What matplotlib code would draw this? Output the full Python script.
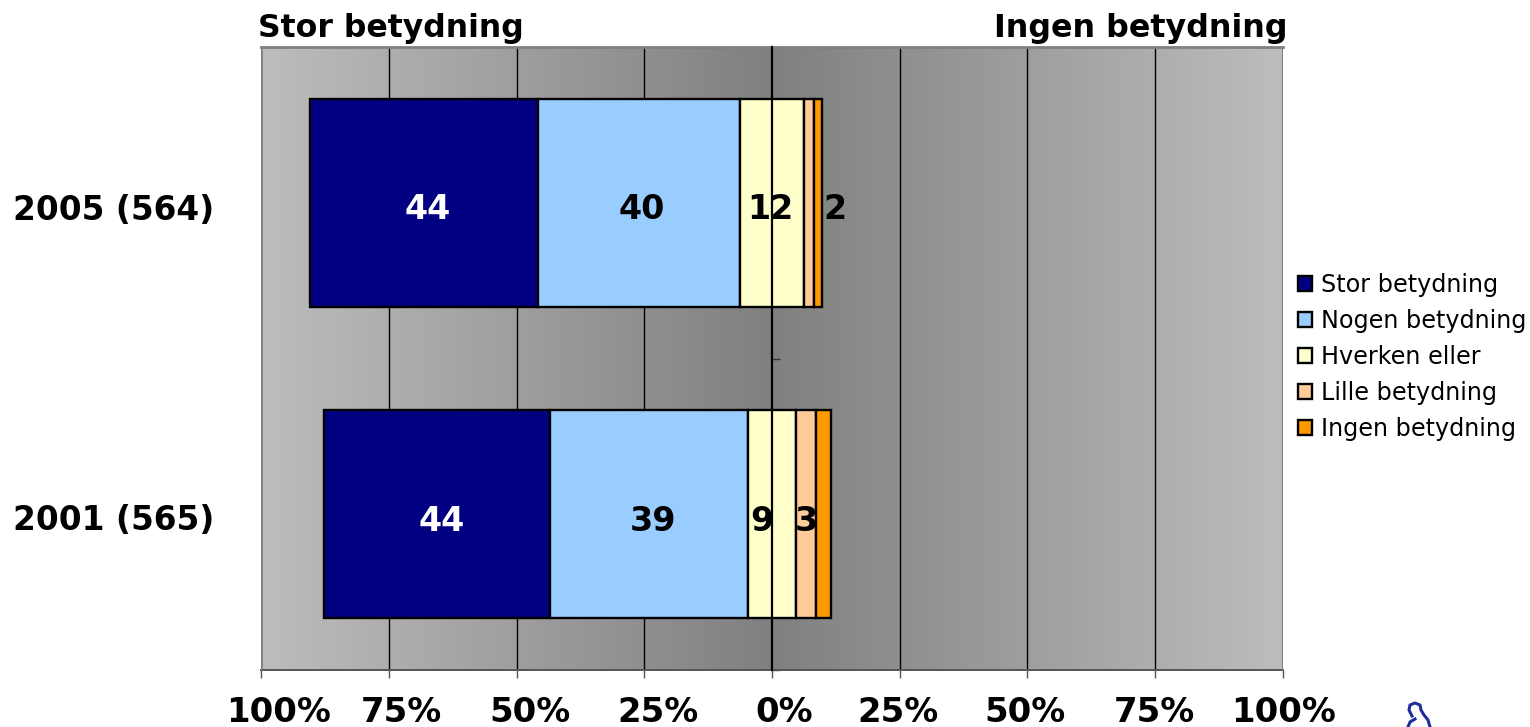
import numpy as np
import matplotlib
matplotlib.use('Agg')
import matplotlib.pyplot as plt
from matplotlib.colors import LinearSegmentedColormap
from matplotlib.lines import Line2D

years = ['2001 (565)', '2005 (564)']
series_names = ['Stor betydning', 'Nogen betydning', 'Hverken eller', 'Lille betydning', 'Ingen betydning']
colors = ['#000080', '#99CCFF', '#FFFFCC', '#FFCC99', '#FF9900']

stor = [44.3, 44.6]
nogen = [38.8, 39.5]
hverken = [9.2, 12.5]
lille = [4.1, 2.0]
ingen = [2.9, 1.6]

# text shown on the bars, None where the source has no label
labels = [
    ['44', '39', '9', '3', None],
    ['44', '40', '12', None, '2'],
]
# hand placed labels in the source, pixels from the segment centre
label_shift = [
    [5, 4, -10, 0, 0],
    [3, 3, -2, 0, 17],
]

tick_values = [-100, -75, -50, -25, 0, 25, 50, 75, 100]
tick_labels = ['100%', '75%', '50%', '25%', '0%', '25%', '50%', '75%', '100%']
# tick labels are not centred on their ticks in the source
tick_shift = [18, 13, 14, 14, 12, -2, -2, -1, 1]

W, H = 1530, 727
fig = plt.figure(figsize=(W / 100, H / 100), dpi=100, facecolor='white')
ax = fig.add_axes([261 / W, 1 - 670 / H, (1283 - 261) / W, (670 - 47) / H])

# grey background, dark in the middle
grad = np.abs(np.linspace(-1, 1, 512)).reshape(1, -1)
bg_cmap = LinearSegmentedColormap.from_list('bg', ['#808080', '#BDBDBD'])
ax.imshow(grad, extent=[-100, 100, 0, 2], aspect='auto', cmap=bg_cmap, zorder=0)

ax.set_xlim(-100, 100)
ax.set_ylim(0, 2)
for v in tick_values:
    if v not in (-100, 0, 100):
        ax.axvline(v, color='black', lw=1, zorder=1)

table = np.array([stor, nogen, hverken, lille, ingen])
y_pos = np.arange(len(years)) + 0.5
start = -(table[0] + table[1] + table[2] / 2)
for i, name in enumerate(series_names):
    ax.barh(y_pos, table[i], left=start, height=0.667, color=colors[i], edgecolor='black', lw=1.7, label=name, zorder=2)
    for r in range(len(years)):
        if labels[r][i] is not None:
            ax.annotate(labels[r][i], (start[r] + table[i][r] / 2, y_pos[r]), xytext=(label_shift[r][i], -7),
                        textcoords='offset pixels', ha='center', va='center', fontsize=24, fontweight='bold',
                        color='white' if i == 0 else 'black', zorder=6)
    start = start + table[i]

ax.spines['left'].set_position(('data', 0))
ax.spines['left'].set_color('black')
ax.spines['left'].set_linewidth(1.6)
ax.spines['left'].set_zorder(5)
ax.spines['right'].set_visible(False)
ax.spines['top'].set_color('#808080')
ax.spines['top'].set_linewidth(2)
ax.spines['bottom'].set_color('#555555')
ax.spines['bottom'].set_linewidth(1.4)
ax.add_line(Line2D([-100, -100], [0, 2], color='#808080', lw=2, zorder=3))
ax.add_line(Line2D([100, 100], [0, 2], color='#808080', lw=1.5, zorder=3))

ax.set_xticks(tick_values)
ax.set_xticklabels([])
ax.tick_params(axis='x', length=6, width=1, color='#555555')
for v, txt, dx in zip(tick_values, tick_labels, tick_shift):
    ax.annotate(txt, (v, 0), xycoords=ax.get_xaxis_transform(), xytext=(dx, -42), textcoords='offset pixels',
                ha='center', va='center', fontsize=24.4, fontweight='bold', annotation_clip=False)

ax.set_yticks([0, 1, 2])
ax.set_yticklabels([])
ax.tick_params(axis='y', direction='in', length=6, width=1, color='#333333')

for r, year in enumerate(years):
    ax.annotate(year, (0, y_pos[r]), xycoords=ax.get_yaxis_transform(), xytext=(214, H - (521 if r == 0 else 210)),
                textcoords='figure pixels', ha='right', va='center', fontsize=23.6, fontweight='bold')

fig.text(258 / W, 1 - 28 / H, 'Stor betydning', fontsize=22.7, fontweight='bold', va='center', ha='left')
fig.text(1288 / W, 1 - 28 / H, 'Ingen betydning', fontsize=22.9, fontweight='bold', va='center', ha='right')

ax.legend(loc='upper left', bbox_to_anchor=(1298 / W, 1 - 273 / H), bbox_transform=fig.transFigure,
          frameon=False, fontsize=17.2, handlelength=0.6, handleheight=0.6, handletextpad=0.35,
          labelspacing=0.5, borderpad=0, borderaxespad=0)

# top of the logo, cut off at the bottom edge in the source
logo_color = '#1F2E9A'
fig.add_artist(Line2D(np.array([1412, 1409, 1410, 1415, 1420, 1421, 1424, 1428, 1430]) / W,
                      1 - np.array([716, 710, 705, 703, 705, 710, 715, 720, 727]) / H,
                      color=logo_color, lw=2.2))
fig.add_artist(Line2D(np.array([1415, 1410, 1408]) / W, 1 - np.array([719, 722, 727]) / H,
                      color=logo_color, lw=2.2))

fig.savefig('out.png', dpi=100)
